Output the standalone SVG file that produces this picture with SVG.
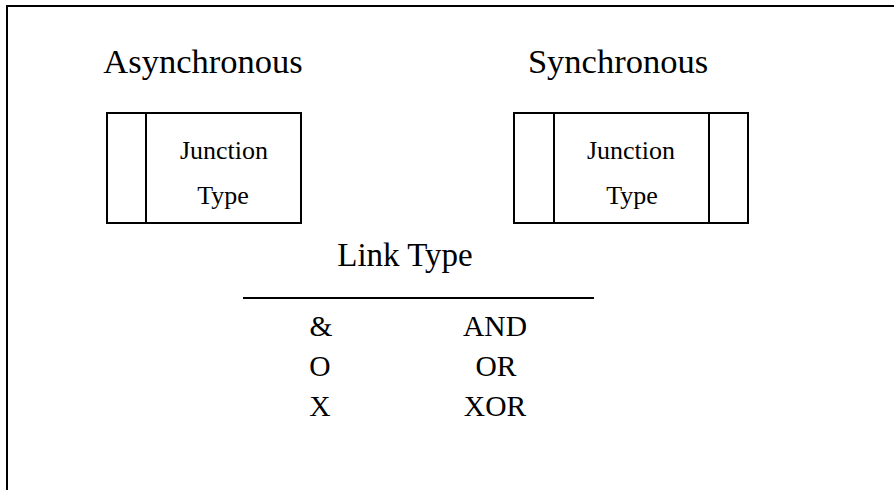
<svg xmlns="http://www.w3.org/2000/svg" width="894" height="490" viewBox="0 0 894 490">
<style>
.t{font-family:"Liberation Serif","Times New Roman",serif;fill:#000;text-anchor:middle}
.h{font-size:34.5px}
.k{font-size:33px}
.j{font-size:26px}
.r{font-size:29.5px}
.b{fill:#fff;stroke:#000;stroke-width:2}
.l{stroke:#000;stroke-width:2;fill:none}
</style>
<rect width="894" height="490" fill="#fff"/>
<g id="frame"><path class="l" d="M7 490V6H894" stroke-width="2.5"/></g>
<g id="async">
<text class="t h" x="203" y="73">Asynchronous</text>
<rect class="b" x="107" y="113" width="194" height="110"/>
<line class="l" x1="146" y1="113" x2="146" y2="223"/>
<text class="t j" x="224" y="159">Junction</text>
<text class="t j" x="223" y="204">Type</text>
</g>
<g id="sync">
<text class="t h" x="618" y="73">Synchronous</text>
<rect class="b" x="514" y="113" width="234" height="110"/>
<line class="l" x1="554" y1="113" x2="554" y2="223"/>
<line class="l" x1="709" y1="113" x2="709" y2="223"/>
<text class="t j" x="631" y="159">Junction</text>
<text class="t j" x="632" y="204">Type</text>
</g>
<g id="linktype">
<text class="t k" x="405" y="266">Link Type</text>
<line class="l" x1="243" y1="298" x2="594" y2="298"/>
<text class="t r" x="321" y="336">&amp;</text>
<text class="t r" x="495" y="336">AND</text>
<text class="t r" x="320" y="376">O</text>
<text class="t r" x="496" y="376">OR</text>
<text class="t r" x="320" y="416">X</text>
<text class="t r" x="495" y="416">XOR</text>
</g>
<g id="connectors"></g>
</svg>
